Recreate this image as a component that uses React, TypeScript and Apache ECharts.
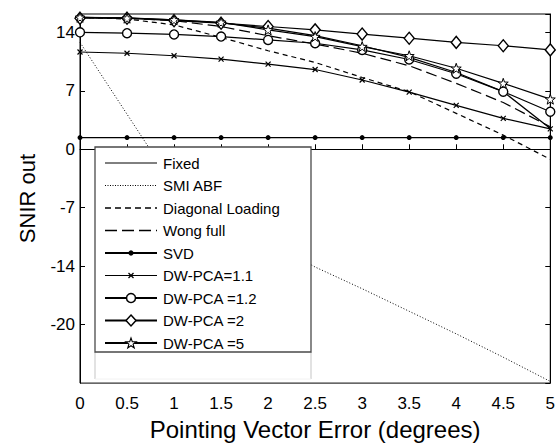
import { useEffect, useRef } from "react";
import * as echarts from "echarts";

const xValues = [0, 0.5, 1, 1.5, 2, 2.5, 3, 3.5, 4, 4.5, 5];
const xTickLabels = ["0", "0.5", "1", "1.5", "2", "2.5", "3", "3.5", "4", "4.5", "5"];
const yTickValues = [14, 7, 0, -7, -14, -21];
const yTickLabels = ["14", "7", "0", "-7", "-14", "-20"];

const fixedSeries = [15.8, 15.75, 15.5, 15.15, 14.5, 13.6, 12.4, 11.0, 9.2, 6.9, 2.5];
const smiSeries = [12.8, 4.2, -4.4, -7.8, -11.0, -14.1, -16.7, -19.4, -22.1, -24.9, -27.8];
const diagSeries = [15.8, 15.6, 14.9, 13.4, 11.8, 10.4, 8.6, 6.9, 4.3, 1.7, -1.2];
const wongSeries = [15.8, 15.7, 15.4, 14.7, 13.6, 12.6, 11.5, 10.0, 7.9, 5.6, 2.7];
const svdSeries = [1.4, 1.4, 1.4, 1.4, 1.4, 1.4, 1.4, 1.4, 1.4, 1.4, 1.4];
const dw11Series = [11.65, 11.5, 11.2, 10.8, 10.2, 9.55, 8.3, 6.85, 5.25, 3.7, 2.45];
const dw12Series = [14.0, 13.9, 13.75, 13.5, 13.1, 12.7, 11.9, 10.75, 9.05, 6.9, 4.5];
const dw2Series = [15.7, 15.7, 15.4, 15.1, 14.7, 14.3, 13.8, 13.3, 12.8, 12.4, 11.9];
const dw5Series = [15.8, 15.7, 15.5, 15.2, 14.3, 13.5, 12.3, 11.2, 9.7, 7.9, 6.0];

const seriesNames = [
  "Fixed",
  "SMI ABF",
  "Diagonal Loading",
  "Wong full",
  "SVD",
  "DW-PCA=1.1",
  "DW-PCA =1.2",
  "DW-PCA =2",
  "DW-PCA =5",
];

const FONT = "'Liberation Sans', Arial, Helvetica, sans-serif";

function starPoints(cx: number, cy: number, R: number): number[][] {
  const pts: number[][] = [];
  const r = R * 0.4;
  for (let i = 0; i < 10; i++) {
    const a = -Math.PI / 2 + (i * Math.PI) / 5;
    const rad = i % 2 === 0 ? R : r;
    pts.push([cx + rad * Math.cos(a), cy + rad * Math.sin(a)]);
  }
  return pts;
}

const starPath =
  "path://" +
  starPoints(10, 10, 10)
    .map((p, i) => (i === 0 ? "M" : "L") + p[0].toFixed(2) + "," + p[1].toFixed(2))
    .join("") +
  "Z";
const xPath = "path://M0,0L10,10M0,10L10,0";

export default function App() {
  const ref = useRef<HTMLDivElement>(null);
  useEffect(() => {
    if (!ref.current) return;
    const chart = echarts.init(ref.current, undefined, { renderer: "svg" });
    const toPairs = (arr: number[]) => xValues.map((x, i) => [x, arr[i]]);
    const hollow = { color: "#fff", borderColor: "#000", borderWidth: 1.4 };

    const series: any[] = [
      { name: seriesNames[0], data: toPairs(fixedSeries), symbol: "none", lineStyle: { color: "#000", width: 1.2 } },
      { name: seriesNames[1], data: toPairs(smiSeries), symbol: "none", lineStyle: { color: "#000", width: 1, type: [1, 2] } },
      { name: seriesNames[2], data: toPairs(diagSeries), symbol: "none", lineStyle: { color: "#000", width: 1.2, type: [5, 4] } },
      { name: seriesNames[3], data: toPairs(wongSeries), symbol: "none", lineStyle: { color: "#000", width: 1.2, type: [11, 5] } },
      { name: seriesNames[4], data: toPairs(svdSeries), symbol: "circle", symbolSize: 5, itemStyle: { color: "#000" }, lineStyle: { color: "#000", width: 1.3 } },
      { name: seriesNames[5], data: toPairs(dw11Series), symbol: xPath, symbolSize: 5, itemStyle: { color: "#000", borderColor: "#000", borderWidth: 1.2 }, lineStyle: { color: "#000", width: 1.2 } },
      { name: seriesNames[6], data: toPairs(dw12Series), symbol: "circle", symbolSize: 9, itemStyle: hollow, lineStyle: { color: "#000", width: 1.2 } },
      { name: seriesNames[7], data: toPairs(dw2Series), symbol: "diamond", symbolSize: [10, 12], itemStyle: hollow, lineStyle: { color: "#000", width: 1.2 } },
      { name: seriesNames[8], data: toPairs(dw5Series), symbol: starPath, symbolSize: 10, itemStyle: { color: "#fff", borderColor: "#000", borderWidth: 1 }, lineStyle: { color: "#000", width: 1.2 } },
    ].map((s) => ({ type: "line", showAllSymbol: true, animation: false, emphasis: { disabled: true }, z: 3, ...s }));

    // legend drawn manually
    const lx1 = 105, lx2 = 157, mx = 131, ltop = 163, lstep = 22.5;
    const legendEls: any[] = [
      { type: "line", shape: { x1: 95, y1: 352, x2: 95, y2: 379 }, style: { stroke: "#cfcfcf", lineWidth: 1.2 }, z: 100 },
      { type: "line", shape: { x1: 311, y1: 352, x2: 311, y2: 379 }, style: { stroke: "#cfcfcf", lineWidth: 1.2 }, z: 100 },
      { type: "line", shape: { x1: 95, y1: 379, x2: 311, y2: 379 }, style: { stroke: "#f2f2f2", lineWidth: 1 }, z: 100 },
      { type: "rect", shape: { x: 95, y: 147, width: 216, height: 205 }, style: { fill: "#fff", stroke: "#4a4a4a", lineWidth: 1.3 }, z: 100 },
    ];
    const legendLineStyles = [
      { lineWidth: 1 },
      { lineWidth: 1, lineDash: [1, 1.5] },
      { lineWidth: 1.6, lineDash: [6, 4] },
      { lineWidth: 1.6, lineDash: [12, 5] },
      { lineWidth: 2 },
      { lineWidth: 1.2 },
      { lineWidth: 2 },
      { lineWidth: 2 },
      { lineWidth: 2 },
    ];
    seriesNames.forEach((name, i) => {
      const y = ltop + i * lstep;
      legendEls.push({
        type: "line",
        shape: { x1: lx1, y1: y, x2: lx2, y2: y },
        style: { stroke: "#000", ...legendLineStyles[i] },
        z: 101,
      });
      if (i === 4) {
        legendEls.push({ type: "circle", shape: { cx: mx, cy: y, r: 2.6 }, style: { fill: "#000" }, z: 102 });
      } else if (i === 5) {
        legendEls.push({ type: "line", shape: { x1: mx - 2.5, y1: y - 2.5, x2: mx + 2.5, y2: y + 2.5 }, style: { stroke: "#000", lineWidth: 1.3 }, z: 102 });
        legendEls.push({ type: "line", shape: { x1: mx - 2.5, y1: y + 2.5, x2: mx + 2.5, y2: y - 2.5 }, style: { stroke: "#000", lineWidth: 1.3 }, z: 102 });
      } else if (i === 6) {
        legendEls.push({ type: "circle", shape: { cx: mx, cy: y, r: 4.5 }, style: { fill: "#fff", stroke: "#000", lineWidth: 1.5 }, z: 102 });
      } else if (i === 7) {
        legendEls.push({
          type: "polygon",
          shape: { points: [[mx, y - 5.5], [mx + 5, y], [mx, y + 5.5], [mx - 5, y]] },
          style: { fill: "#fff", stroke: "#000", lineWidth: 1.5 },
          z: 102,
        });
      } else if (i === 8) {
        legendEls.push({
          type: "polygon",
          shape: { points: starPoints(mx, y + 0.5, 5.5) },
          style: { fill: "#fff", stroke: "#000", lineWidth: 1.1 },
          z: 102,
        });
      }
      legendEls.push({
        type: "text",
        x: 163,
        y: y,
        style: { text: name, fontSize: 15, fontFamily: FONT, fill: "#000", verticalAlign: "middle", align: "left" },
        z: 102,
      });
    });

    const yFormatter = (v: number) => {
      const idx = yTickValues.findIndex((t) => Math.abs(t - v) < 1e-6);
      return idx >= 0 ? yTickLabels[idx] : "";
    };
    const xFormatter = (v: number) => {
      const idx = xValues.findIndex((t) => Math.abs(t - v) < 1e-6);
      return idx >= 0 ? xTickLabels[idx] : "";
    };

    chart.setOption({
      animation: false,
      backgroundColor: "#fff",
      textStyle: { fontFamily: FONT },
      grid: { left: 80, right: 2, top: 14, bottom: 54, show: true, borderColor: "#000", borderWidth: 1, containLabel: false },
      xAxis: {
        type: "value",
        min: 0,
        max: 5,
        interval: 0.5,
        name: "Pointing Vector Error (degrees)",
        nameLocation: "middle",
        nameGap: 29,
        nameTextStyle: { fontSize: 24, color: "#000", fontFamily: FONT },
        axisLine: { show: true, lineStyle: { color: "#000", width: 1 } },
        axisTick: { show: true, inside: true, length: 5, lineStyle: { color: "#000" } },
        axisLabel: { color: "#000", fontSize: 17, fontFamily: FONT, margin: 12, formatter: xFormatter, showMaxLabel: true },
        splitLine: { show: false },
      },
      yAxis: [
        {
          type: "value",
          min: -28,
          max: 16.2,
          interval: 7,
          name: "SNIR out",
          nameLocation: "middle",
          nameGap: 42,
          nameRotate: 90,
          nameTextStyle: { fontSize: 22, color: "#000", fontFamily: FONT },
          axisLine: { show: true, lineStyle: { color: "#000", width: 1 } },
          axisTick: { show: true, inside: true, length: 5, lineStyle: { color: "#000" } },
          axisLabel: { color: "#000", fontSize: 17, fontFamily: FONT, margin: 5, padding: [7, 0, 0, 0], formatter: yFormatter, showMaxLabel: false, showMinLabel: false },
          splitLine: { show: false },
        },
        {
          type: "value",
          position: "right",
          min: -28,
          max: 16.2,
          interval: 7,
          axisLine: { show: true, lineStyle: { color: "#000", width: 1 } },
          axisTick: { show: true, inside: true, length: 5, lineStyle: { color: "#000" } },
          axisLabel: { show: false },
          splitLine: { show: false },
        },
      ],
      series,
      graphic: legendEls,
    });
    return () => chart.dispose();
  }, []);
  return <div ref={ref} style={{ position: "fixed", left: 0, top: 0, width: 558, height: 446 }} />;
}
